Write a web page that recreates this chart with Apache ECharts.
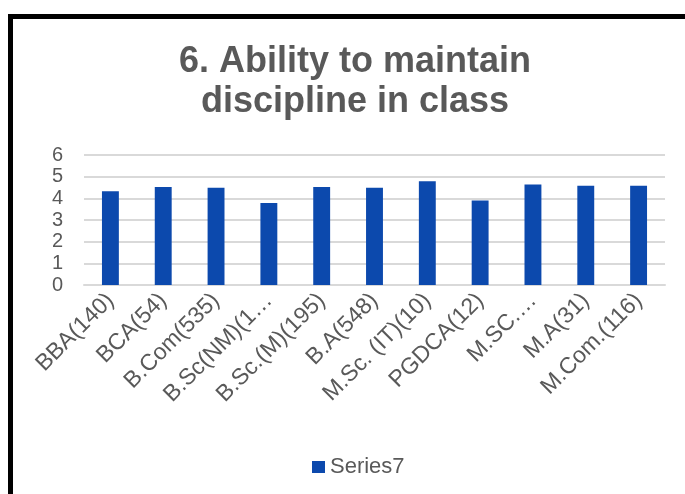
<!DOCTYPE html>
<html>
<head>
<meta charset="utf-8">
<script src="https://cdn.jsdelivr.net/npm/echarts@6/dist/echarts.min.js"></script>
<style>
  html, body { margin: 0; padding: 0; background: #fff; }
  #chart { width: 685px; height: 494px; }
  .frame {
    position: absolute; left: 8px; top: 14px; width: 700px; height: 500px;
    border-left: 5px solid #000; border-top: 5px solid #000;
    pointer-events: none;
  }
</style>
</head>
<body>
<div id="chart"></div>
<div class="frame"></div>
<script>
const categories = [
  'BBA(140)', 'BCA(54)', 'B.Com(535)', 'B.Sc(NM)(1…', 'B.Sc.(M)(195)', 'B.A(548)',
  'M.Sc. (IT)(10)', 'PGDCA(12)', 'M.SC.…', 'M.A(31)', 'M.Com.(116)'
]
const series7 = [4.33, 4.52, 4.49, 3.79, 4.52, 4.49, 4.79, 3.9, 4.64, 4.58, 4.58]
const yTicks = [0, 6, 1] // min, max, interval

const font = '"Liberation Sans", Arial, sans-serif'
const grey = '#595959'

const chart = echarts.init(document.getElementById('chart'))
chart.setOption({
  animation: false,
  textStyle: { fontFamily: font },
  title: {
    text: '6. Ability to maintain\ndiscipline in class',
    left: 350,
    top: 37,
    textAlign: 'center',
    textStyle: { fontSize: 36, fontWeight: 'bold', color: grey, fontFamily: font, lineHeight: 40 },
  },
  legend: {
    data: ['Series7'],
    left: 307,
    top: 451,
    itemWidth: 13,
    itemHeight: 12,
    icon: 'rect',
    textStyle: { fontSize: 22, color: grey, fontFamily: font },
  },
  grid: { left: 84, right: 20, top: 155, bottom: 209, containLabel: false },
  xAxis: {
    type: 'category',
    data: categories,
    axisTick: { show: false },
    axisLine: { lineStyle: { color: '#d9d9d9', width: 2 } },
    axisLabel: { rotate: 45, interval: 0, fontSize: 23, color: grey, margin: 12, fontFamily: font },
  },
  yAxis: {
    type: 'value',
    min: yTicks[0],
    max: yTicks[1],
    interval: yTicks[2],
    axisLine: { show: false },
    axisTick: { show: false },
    splitLine: { lineStyle: { color: '#d9d9d9', width: 2 } },
    axisLabel: { fontSize: 20, color: grey, margin: 21, fontFamily: font },
  },
  series: [
    {
      name: 'Series7',
      type: 'bar',
      data: series7,
      barWidth: '32%',
      itemStyle: { color: '#0c49ad' },
    },
  ],
})
</script>
</body>
</html>
